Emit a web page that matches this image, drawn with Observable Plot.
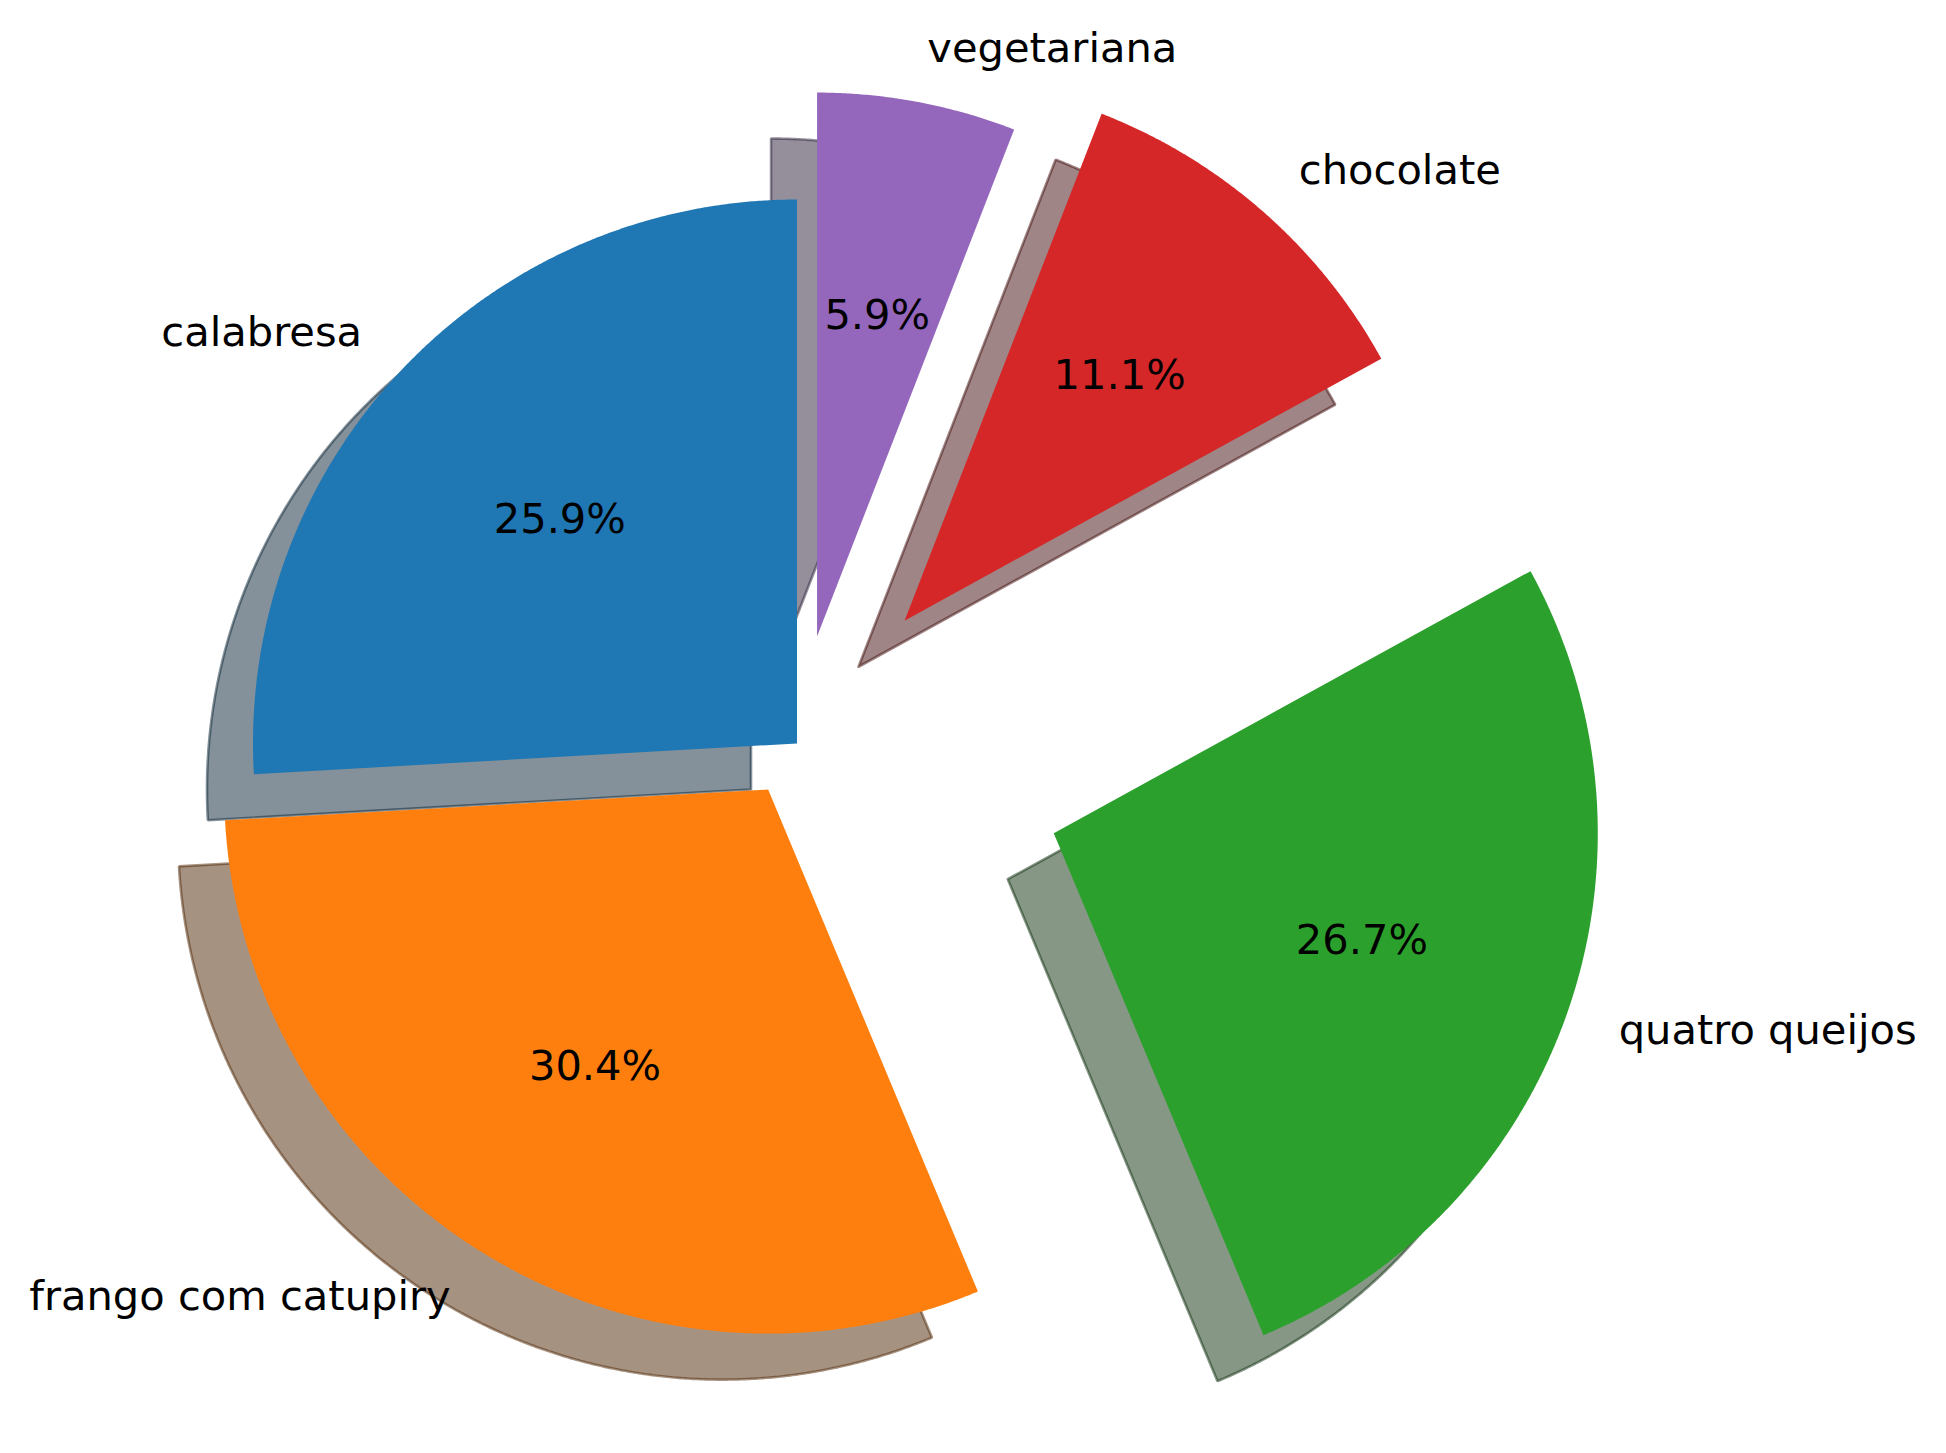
<!DOCTYPE html>
<html>
<head>
<meta charset="utf-8">
<script src="https://cdn.jsdelivr.net/npm/d3@7"></script>
<script src="https://cdn.jsdelivr.net/npm/@observablehq/plot@0.6"></script>
<style>
  html, body { margin: 0; padding: 0; background: #ffffff; }
  #chart svg { display: block; }
</style>
</head>
<body>
<div id="chart"></div>
<script>
// ---- data ----
const labels = ["calabresa", "frango com catupiry", "quatro queijos", "chocolate", "vegetariana"];
const values = [25.9, 30.4, 26.7, 11.1, 5.9];
const explode = [0, 0.1, 0.5, 0.3, 0.2];
const colors = ["#1f77b4", "#ff7f0e", "#2ca02c", "#d62728", "#9467bd"];

// ---- layout ----
const W = 1946, H = 1453;
const R = 544;            // pixels per unit radius
const CX = 796.5, CY = 743; // pixel position of the pie centre
const startAngle = 90;
const shadowOffset = 46 / R;
const labelDistance = 1.1, pctDistance = 0.6;
const FS = 41.6;

const total = d3.sum(values);
let acc = startAngle;
const slices = values.map((v, i) => {
  const span = v / total * 360;
  const t1 = acc, t2 = acc + span;
  acc = t2;
  const mid = (t1 + t2) / 2 * Math.PI / 180;
  const cx = explode[i] * Math.cos(mid);
  const cy = explode[i] * Math.sin(mid);
  const n = Math.ceil(span / 0.25);
  const pts = [{x: cx, y: cy}];
  for (let k = 0; k <= n; k++) {
    const t = (t1 + span * k / n) * Math.PI / 180;
    pts.push({x: cx + Math.cos(t), y: cy + Math.sin(t)});
  }
  pts.push({x: cx, y: cy});
  return {
    label: labels[i], value: v, color: colors[i], pts, mid, cx, cy,
    lx: cx + labelDistance * Math.cos(mid), ly: cy + labelDistance * Math.sin(mid),
    px: cx + pctDistance * Math.cos(mid), py: cy + pctDistance * Math.sin(mid),
    pct: (v / total * 100).toFixed(1) + "%"
  };
});

function shade(c) {
  const r = d3.rgb(c);
  return d3.rgb(r.r * 0.3, r.g * 0.3, r.b * 0.3).formatHex();
}

const marks = [];
// shadows (below all wedges)
for (const s of slices) {
  const sc = shade(s.color);
  marks.push(Plot.line(s.pts, {
    x: d => d.x - shadowOffset, y: d => d.y - shadowOffset,
    fill: sc, fillOpacity: 0.5, stroke: sc, strokeOpacity: 0.5,
    strokeWidth: 2.6, strokeLinejoin: "miter", curve: "linear"
  }));
}
// wedges
for (const s of slices) {
  marks.push(Plot.line(s.pts, {
    x: "x", y: "y", fill: s.color, stroke: "none", curve: "linear"
  }));
}
const font = "DejaVu Sans, Liberation Sans, sans-serif";
marks.push(Plot.text(slices.filter(s => s.lx > 0), {
  x: "lx", y: "ly", text: "label", textAnchor: "start",
  fontSize: FS, fontFamily: font, fill: "#000"
}));
marks.push(Plot.text(slices.filter(s => s.lx <= 0), {
  x: "lx", y: "ly", text: "label", textAnchor: "end",
  fontSize: FS, fontFamily: font, fill: "#000"
}));
marks.push(Plot.text(slices, {
  x: "px", y: "py", text: "pct", textAnchor: "middle",
  fontSize: FS, fontFamily: font, fill: "#000"
}));

const chart = Plot.plot({
  width: W, height: H, margin: 0,
  x: {domain: [-CX / R, (W - CX) / R], axis: null},
  y: {domain: [(CY - H) / R, CY / R], axis: null},
  style: {background: "#ffffff", overflow: "visible"},
  marks
});
document.getElementById("chart").appendChild(chart);
</script>
</body>
</html>
